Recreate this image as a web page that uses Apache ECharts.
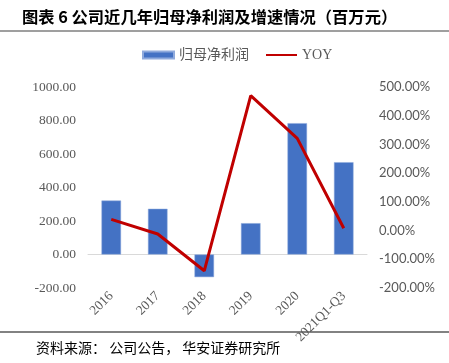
<!DOCTYPE html>
<html>
<head>
<meta charset="utf-8">
<script src="https://cdn.jsdelivr.net/npm/echarts@6/dist/echarts.min.js"></script>
<style>
html,body{margin:0;padding:0;background:#fff;}
#chart{width:449px;height:363px;}
</style>
</head>
<body>
<div id="chart"></div>
<script>
var categories = ['2016', '2017', '2018', '2019', '2020', '2021Q1-Q3'];
var netProfit = [322, 273, -135, 187, 784, 551];
var yoy = [39, -12, -140, 470, 321, 8];
var leftTicks = [-200, 1000, 200];
var rightTicks = [-200, 500, 100];

var chart = echarts.init(document.getElementById('chart'), null, {renderer: 'canvas'});
var serif = "'Liberation Serif', 'Noto Sans CJK SC', serif";
var option = {
  animation: false,
  backgroundColor: '#ffffff',
  graphic: [
    {type: 'text', left: 22, top: 9, style: {text: '图表 6 公司近几年归母净利润及增速情况（百万元）', font: "bold 16.3px 'Noto Sans CJK SC'", fill: '#000'}},
    {type: 'line', shape: {x1: 0, y1: 31, x2: 449, y2: 31}, style: {stroke: '#7f7f7f', lineWidth: 1.5}},
    {type: 'line', shape: {x1: 0, y1: 332, x2: 449, y2: 332}, style: {stroke: '#595959', lineWidth: 1.5}},
    {type: 'text', left: 36, top: 341, style: {text: '资料来源： 公司公告， 华安证券研究所', font: "14px 'Noto Sans CJK SC'", fill: '#000'}}
  ],
  legend: {
    left: 142, top: 48, padding: 0,
    itemWidth: 31, itemHeight: 7, itemGap: 16,
    textStyle: {fontFamily: serif, fontSize: 14, color: '#595959'},
    data: [
      {name: '归母净利润', icon: 'rect'},
      {name: 'YOY', itemStyle: {opacity: 0}}
    ]
  },
  grid: {left: 88, right: 82, top: 87, bottom: 75},
  xAxis: {
    type: 'category',
    data: categories,
    axisLine: {show: true, onZero: true, lineStyle: {color: '#d9d9d9', width: 1}},
    axisTick: {show: false},
    axisLabel: {rotate: 45, interval: 0, fontFamily: serif, fontSize: 13.5, color: '#595959', margin: 6}
  },
  yAxis: [
    {
      type: 'value', min: leftTicks[0], max: leftTicks[1], interval: leftTicks[2],
      axisLine: {show: false}, axisTick: {show: false}, splitLine: {show: false},
      axisLabel: {fontFamily: serif, fontSize: 13.5, color: '#595959', margin: 12,
        formatter: function (v) { return v.toFixed(2); }}
    },
    {
      type: 'value', min: rightTicks[0], max: rightTicks[1], interval: rightTicks[2],
      alignTicks: false,
      axisLine: {show: false}, axisTick: {show: false}, splitLine: {show: false},
      axisLabel: {fontFamily: "Lato, sans-serif", fontSize: 13, color: '#595959', margin: 12,
        formatter: function (v) { return v.toFixed(2) + '%'; }}
    }
  ],
  series: [
    {
      name: '归母净利润', type: 'bar', yAxisIndex: 0, data: netProfit,
      barWidth: '42%',
      itemStyle: {color: '#4472C4', borderColor: '#8faadc', borderWidth: 0.5}
    },
    {
      name: 'YOY', type: 'line', yAxisIndex: 1, data: yoy,
      symbol: 'none', lineStyle: {color: '#C00000', width: 3}, itemStyle: {color: '#C00000'}
    }
  ]
};
chart.setOption(option);
</script>
</body>
</html>
